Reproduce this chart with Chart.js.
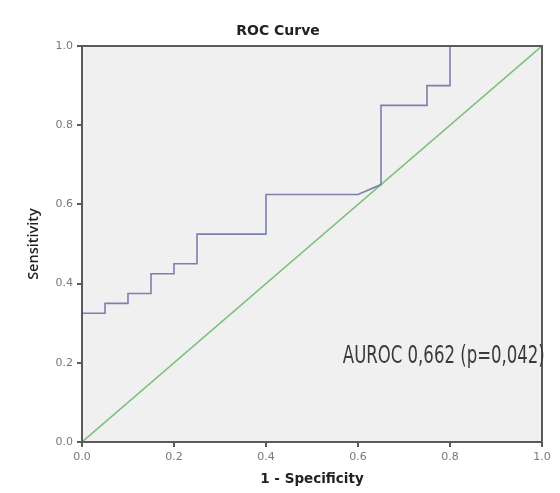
<!DOCTYPE html>
<html>
<head>
<meta charset="utf-8">
<script src="https://cdn.jsdelivr.net/npm/chart.js@4"></script>
<style>
  body { margin: 0; background: #fff; }
  #wrap { width: 560px; height: 493px; }
</style>
</head>
<body>
<div id="wrap"><canvas id="rocChart" width="560" height="493"></canvas></div>
<script>
// ROC curve steps
const fpr = [0, 0, 0.05, 0.05, 0.1, 0.1, 0.15, 0.15, 0.2, 0.2, 0.25, 0.25, 0.4, 0.4, 0.6, 0.65, 0.65, 0.75, 0.75, 0.8, 0.8, 1.0]
const tpr = [0, 0.325, 0.325, 0.35, 0.35, 0.375, 0.375, 0.425, 0.425, 0.45, 0.45, 0.525, 0.525, 0.625, 0.625, 0.65, 0.85, 0.85, 0.9, 0.9, 1.0, 1.0]
const refX = [0, 1]
const refY = [0, 1]
const tickValues = [0, 0.2, 0.4, 0.6, 0.8, 1.0]
const chartTitle = 'ROC Curve'
const aurocLabel = 'AUROC 0,662 (p=0,042)'
const labelAt = { x: 0.567, y: 0.215 }

const toPoints = (xs, ys) => xs.map((x, i) => ({ x: x, y: ys[i] }))

// grey plot background, frame on all four sides, title and AUROC note
const plotFrame = {
	id: 'plotFrame',
	beforeDatasetsDraw(chart) {
		const { ctx, chartArea: a } = chart
		ctx.save()
		ctx.fillStyle = '#f0f0f0'
		ctx.fillRect(a.left, a.top, a.right - a.left, a.bottom - a.top)
		ctx.restore()
	},
	afterDatasetsDraw(chart) {
		const { ctx, chartArea: a } = chart
		ctx.save()
		ctx.strokeStyle = '#5a5a5a'
		ctx.lineWidth = 2
		ctx.strokeRect(a.left, a.top, a.right - a.left, a.bottom - a.top)

		// title, centred on the page rather than the padded box
		ctx.font = 'bold 14px "DejaVu Sans", sans-serif'
		ctx.fillStyle = '#222'
		ctx.textAlign = 'center'
		ctx.textBaseline = 'middle'
		ctx.fillText(chartTitle, 278, 31)

		// annotation text
		const x = chart.scales.x.getPixelForValue(labelAt.x)
		const y = chart.scales.y.getPixelForValue(labelAt.y)
		ctx.font = '24px "Liberation Sans Narrow", "DejaVu Sans Condensed", sans-serif'
		ctx.fillStyle = '#3a3a3a'
		ctx.textAlign = 'left'
		const w = ctx.measureText(aurocLabel).width
		ctx.translate(x, y)
		ctx.scale(202 / w, 1)
		ctx.fillText(aurocLabel, 0, 0)
		ctx.restore()
	}
}

const tickFont = { family: 'DejaVu Sans', size: 11 }
const axisColor = '#5a5a5a'

const chart = new Chart(document.getElementById('rocChart'), {
	type: 'scatter',
	data: {
		datasets: [{
			label: 'ROC',
			data: toPoints(fpr, tpr),
			showLine: true,
			borderColor: '#7b80b0',
			borderWidth: 1.6,
			pointRadius: 0,
			fill: false
		}, {
			label: 'Reference',
			data: toPoints(refX, refY),
			showLine: true,
			borderColor: '#7dbf7d',
			borderWidth: 1.6,
			pointRadius: 0,
			fill: false
		}]
	},
	options: {
		responsive: false,
		animation: false,
		layout: { padding: { left: 0, right: 18, top: 46, bottom: 0 } },
		plugins: {
			legend: { display: false },
			tooltip: { enabled: false },
			title: { display: false }
		},
		scales: {
			x: {
				type: 'linear',
				min: 0,
				max: 1,
				afterBuildTicks: (axis) => { axis.ticks = tickValues.map(v => ({ value: v })) },
				afterFit: (axis) => { axis.height = 51 },
				ticks: {
					color: '#777',
					font: tickFont,
					padding: 4,
					callback: (v) => v.toFixed(1)
				},
				grid: { drawOnChartArea: false, drawTicks: true, tickLength: 5, color: axisColor, lineWidth: 2 },
				border: { color: axisColor, width: 2 },
				title: {
					display: true,
					text: '1 - Specificity',
					color: '#222',
					font: { family: 'DejaVu Sans', size: 13.5, weight: 'bold' },
					padding: { top: 0, bottom: 5 }
				}
			},
			y: {
				type: 'linear',
				min: 0,
				max: 1,
				afterBuildTicks: (axis) => { axis.ticks = tickValues.map(v => ({ value: v })) },
				afterFit: (axis) => { axis.width = 82 },
				ticks: {
					color: '#777',
					font: tickFont,
					padding: 4,
					callback: (v) => v.toFixed(1)
				},
				grid: { drawOnChartArea: false, drawTicks: true, tickLength: 5, color: axisColor, lineWidth: 2 },
				border: { color: axisColor, width: 2 },
				title: {
					display: true,
					text: 'Sensitivity',
					color: '#222',
					font: { family: 'Open Sans', size: 14.5, weight: '600' },
					padding: { top: 25, bottom: 0 }
				}
			}
		}
	},
	plugins: [plotFrame]
})
</script>
</body>
</html>
